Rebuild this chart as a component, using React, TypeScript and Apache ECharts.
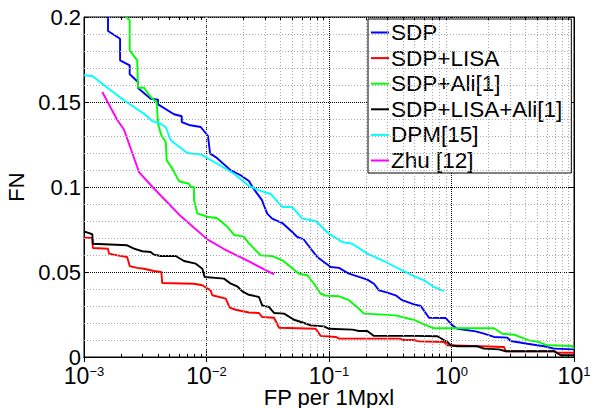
import React, { useEffect, useRef } from 'react';
import * as echarts from 'echarts';

const FONT = '"Liberation Sans", Arial, Helvetica, sans-serif';

const seriesNames = ['SDP', 'SDP+LISA', 'SDP+Ali[1]', 'SDP+LISA+Ali[1]', 'DPM[15]', 'Zhu [12]'];
const seriesColors = ['#0000ff', '#ff0000', '#00ff00', '#000000', '#00ffff', '#ff00ff'];

// [FP per 1Mpxl, FN]
const sdp: number[][] = [
  [0.00157, 0.2], [0.00157, 0.1918], [0.00197, 0.1872], [0.00197, 0.1745], [0.00236, 0.1716],
  [0.00236, 0.1663], [0.00276, 0.1618], [0.00276, 0.1582], [0.0035, 0.1519], [0.00402, 0.1514],
  [0.00402, 0.1486], [0.00543, 0.1428], [0.00628, 0.1416], [0.00628, 0.1382], [0.00719, 0.1365],
  [0.00897, 0.1353], [0.01028, 0.13], [0.0107, 0.1196], [0.01189, 0.1176], [0.0158, 0.1098],
  [0.019, 0.1069], [0.0222, 0.1035], [0.0241, 0.0992], [0.0283, 0.0924], [0.0313, 0.0843],
  [0.0344, 0.0814], [0.0416, 0.0788], [0.0501, 0.0735], [0.0551, 0.0706], [0.0625, 0.069],
  [0.071, 0.0637], [0.0802, 0.0588], [0.091, 0.0559], [0.1033, 0.0529], [0.1208, 0.0524],
  [0.1455, 0.049], [0.1757, 0.0471], [0.2055, 0.0455], [0.2328, 0.0431], [0.256, 0.0392],
  [0.2904, 0.0382], [0.35, 0.0363], [0.396, 0.0334], [0.494, 0.031], [0.561, 0.03],
  [0.655, 0.0231], [0.898, 0.0229], [1.016, 0.0186], [1.115, 0.0166], [1.577, 0.0151],
  [1.842, 0.0137], [2.224, 0.0118], [2.855, 0.0114], [3.04, 0.0094], [4.16, 0.0078],
  [5.69, 0.0063], [6.87, 0.0049], [10, 0.0045],
];

const sdpLisa: number[][] = [
  [0.001, 0.0702], [0.00117, 0.07], [0.00118, 0.0641], [0.00157, 0.0637], [0.0016, 0.0608],
  [0.00187, 0.0598], [0.00225, 0.0588], [0.00236, 0.0535], [0.00272, 0.0524], [0.00309, 0.0519],
  [0.00372, 0.0506], [0.00428, 0.05], [0.00435, 0.0435], [0.00791, 0.0431], [0.00925, 0.0422],
  [0.0108, 0.0392], [0.01115, 0.0363], [0.01436, 0.0343], [0.01545, 0.029], [0.0173, 0.0278],
  [0.0222, 0.0262], [0.0268, 0.0259], [0.0285, 0.0235], [0.0356, 0.0231], [0.0391, 0.0172],
  [0.0778, 0.0166], [0.0855, 0.0124], [0.1135, 0.0118], [0.1208, 0.0108], [0.385, 0.0108],
  [0.396, 0.01], [0.494, 0.01], [0.543, 0.0092], [0.869, 0.0088], [0.925, 0.0069],
  [1.73, 0.0063], [2.68, 0.0059], [2.77, 0.0034], [6.87, 0.0034], [7.31, 0.0025], [10, 0.0025],
];

const sdpAli: number[][] = [
  [0.00221, 0.2], [0.00236, 0.198], [0.00236, 0.1804], [0.00272, 0.1745], [0.00276, 0.1584],
  [0.00309, 0.1584], [0.0035, 0.1529], [0.00392, 0.15], [0.00402, 0.1372], [0.00428, 0.1304],
  [0.00465, 0.1265], [0.00473, 0.1157], [0.00526, 0.1108], [0.00597, 0.1034], [0.00719, 0.1019],
  [0.00743, 0.1], [0.00791, 0.1], [0.00791, 0.0924], [0.00841, 0.0845], [0.01016, 0.0825],
  [0.01225, 0.0816], [0.0148, 0.0766], [0.0168, 0.0718], [0.0202, 0.0708], [0.0222, 0.0668],
  [0.0277, 0.0598], [0.0344, 0.0594], [0.0416, 0.0569], [0.0486, 0.0529], [0.0569, 0.049],
  [0.0665, 0.0481], [0.0755, 0.0431], [0.0855, 0.0372], [0.094, 0.0361], [0.1208, 0.0357],
  [0.1455, 0.0334], [0.1757, 0.0284], [0.193, 0.0255], [0.256, 0.0251], [0.35, 0.0245],
  [0.45, 0.0225], [0.494, 0.0218], [0.597, 0.0192], [0.72, 0.0169], [2.224, 0.0169],
  [2.6, 0.0137], [3.24, 0.0131], [4.29, 0.0098], [5.18, 0.0088], [6.05, 0.0069],
  [9.68, 0.0065], [10, 0.0049],
];

const sdpLisaAli: number[][] = [
  [0.001, 0.0739], [0.00117, 0.0722], [0.00118, 0.0666], [0.00225, 0.0657], [0.00256, 0.0637],
  [0.00299, 0.0622], [0.0035, 0.0618], [0.00372, 0.0602], [0.00423, 0.0594], [0.00561, 0.0594],
  [0.00655, 0.0565], [0.00817, 0.0549], [0.00925, 0.0519], [0.00966, 0.0471], [0.0139, 0.0461],
  [0.0158, 0.0431], [0.0178, 0.0416], [0.0196, 0.0386], [0.0222, 0.0366], [0.0268, 0.0353],
  [0.0285, 0.0304], [0.0324, 0.0294], [0.0356, 0.0259], [0.043, 0.0255], [0.0518, 0.0219],
  [0.0625, 0.02], [0.071, 0.0186], [0.091, 0.018], [0.1, 0.0166], [0.1555, 0.0161],
  [0.1757, 0.0153], [0.2055, 0.0153], [0.2328, 0.0124], [0.494, 0.0124], [0.766, 0.0122],
  [0.925, 0.0088], [0.984, 0.0069], [1.115, 0.0063], [1.625, 0.0063], [1.842, 0.0049],
  [2.44, 0.0045], [2.77, 0.0034], [6.87, 0.0034], [7.79, 0.001], [10, 0.001],
];

const dpm: number[][] = [
  [0.001, 0.1657], [0.00117, 0.1653], [0.00146, 0.1598], [0.00212, 0.151], [0.00309, 0.1431],
  [0.00361, 0.1388], [0.00423, 0.1372], [0.00465, 0.1353], [0.0051, 0.1275], [0.00697, 0.12],
  [0.00897, 0.1192], [0.01225, 0.1137], [0.0168, 0.1078], [0.0222, 0.1006], [0.0265, 0.0982],
  [0.0334, 0.0959], [0.0416, 0.0882], [0.0501, 0.0882], [0.0605, 0.0814], [0.0778, 0.08],
  [0.1, 0.0725], [0.1285, 0.0676], [0.155, 0.0666], [0.2055, 0.0608], [0.272, 0.0569],
  [0.372, 0.0519], [0.494, 0.0476], [0.597, 0.0451], [0.72, 0.0412], [0.869, 0.0388],
];

const zhu: number[][] = [
  [0.00141, 0.1559], [0.00187, 0.1394], [0.00212, 0.1338], [0.00281, 0.1088], [0.00366, 0.0997],
  [0.00615, 0.0829], [0.01016, 0.0692], [0.0139, 0.0635], [0.0222, 0.0562], [0.0356, 0.0486],
];

const xTickExponents = [-3, -2, -1, 0, 1];
const yTickLabels = ['0', '0.05', '0.1', '0.15', '0.2'];
const minorMultipliers = [2, 3, 4, 5, 6, 7, 8, 9];
const minorDecades = [0.001, 0.01, 0.1, 1];
const yMinorGrid = [0.01, 0.02, 0.03, 0.04, 0.06, 0.07, 0.08, 0.09, 0.11, 0.12, 0.13, 0.14, 0.16, 0.17, 0.18, 0.19];

export default function App() {
  const ref = useRef<HTMLDivElement>(null);
  useEffect(() => {
    const chart = echarts.init(ref.current!, null, { renderer: 'svg' });
    const curves = [sdp, sdpLisa, sdpAli, sdpLisaAli, dpm, zhu];
    const xMinor: number[] = [];
    minorDecades.forEach((d) => minorMultipliers.forEach((m) => xMinor.push(+(d * m).toPrecision(3))));

    const lineSeries = curves.map((d, i) => ({
      name: seriesNames[i],
      type: 'line',
      data: d,
      symbol: 'none',
      showSymbol: false,
      silent: true,
      z: 3,
      lineStyle: { color: seriesColors[i], width: 1.9 },
      itemStyle: { color: seriesColors[i] },
    }));

    const gridSeries = {
      name: '__grid',
      type: 'line',
      data: [],
      silent: true,
      z: 1,
      markLine: {
        silent: true,
        symbol: ['none', 'none'],
        label: { show: false },
        animation: false,
        lineStyle: { color: '#a8a8a8', type: [1, 2], width: 1 },
        data: [
          ...xMinor.map((v) => ({ xAxis: v })),
          ...yMinorGrid.map((v) => ({ yAxis: v })),
        ],
      },
    };

    const tickSeries = {
      name: '__ticks',
      type: 'line',
      data: [],
      silent: true,
      z: 4,
      markLine: {
        silent: true,
        symbol: ['none', 'none'],
        label: { show: false },
        animation: false,
        lineStyle: { color: '#000', type: 'solid', width: 1 },
        data: xMinor.flatMap((v) => [
          [{ coord: [v, 0] }, { coord: [v, 0.0018] }],
          [{ coord: [v, 0.2] }, { coord: [v, 0.1982] }],
        ]),
      },
    };

    const axisLabelStyle = { fontFamily: FONT, color: '#000', fontSize: 22 };

    chart.setOption({
      animation: false,
      backgroundColor: '#fff',
      textStyle: { fontFamily: FONT },
      grid: {
        left: 84, top: 17, width: 490, height: 340,
        show: true, borderColor: '#000', borderWidth: 1, backgroundColor: 'transparent',
        containLabel: false, outerBoundsMode: 'none',
      },
      legend: {
        data: seriesNames,
        orient: 'vertical',
        left: 368,
        top: 19,
        padding: [2, 9, 1, 3],
        itemGap: 2.6,
        itemWidth: 18,
        itemHeight: 2,
        icon: 'rect',
        backgroundColor: '#fff',
        borderColor: '#000',
        borderWidth: 1,
        borderRadius: 0,
        selectedMode: false,
        textStyle: { fontFamily: FONT, fontSize: 22.5, color: '#000', padding: [0, 0, 0, -3] },
      },
      xAxis: [
        {
          type: 'log',
          logBase: 10,
          min: 0.001,
          max: 10,
          name: 'FP per 1Mpxl',
          nameLocation: 'middle',
          nameGap: 31,
          nameMoveOverlap: false,
          nameTextStyle: { fontFamily: FONT, fontSize: 22, color: '#000', lineHeight: 18 },
          axisLine: { show: true, lineStyle: { color: '#000', width: 1 } },
          axisTick: { show: true, inside: true, length: 5, lineStyle: { color: '#000' } },
          splitLine: { show: true, lineStyle: { color: '#000', type: [1, 1], width: 1 } },
          axisLabel: {
            margin: 8,
            formatter: (v: number) => {
              const e = Math.round(Math.log10(v));
              const idx = xTickExponents.indexOf(e);
              const s = idx >= 0 ? String(xTickExponents[idx]).replace('-', '\u2212') : '';
              return '{b|10}{s|' + s + '}';
            },
            rich: {
              b: { ...axisLabelStyle, fontSize: 23, lineHeight: 19, padding: [3, 0, 0, 0] },
              s: { ...axisLabelStyle, fontSize: 13, lineHeight: 12, verticalAlign: 'top' },
            },
          },
        },
        {
          type: 'log',
          logBase: 10,
          min: 0.001,
          max: 10,
          position: 'top',
          axisLine: { show: true, lineStyle: { color: '#000' } },
          axisTick: { show: true, inside: true, length: 5, lineStyle: { color: '#000' } },
          axisLabel: { show: false },
          splitLine: { show: false },
        },
      ],
      yAxis: [
        {
          type: 'value',
          min: 0,
          max: 0.2,
          interval: 0.05,
          name: 'FN',
          nameLocation: 'middle',
          nameGap: 54,
          nameTextStyle: { fontFamily: FONT, fontSize: 22, color: '#000' },
          axisLine: { show: true, lineStyle: { color: '#000' } },
          axisTick: { show: true, inside: true, length: 5, lineStyle: { color: '#000' } },
          splitLine: { show: true, lineStyle: { color: '#000', type: [1, 1], width: 1 } },
          axisLabel: {
            ...axisLabelStyle,
            lineHeight: 17,
            margin: 3,
            formatter: (_v: number, i: number) => yTickLabels[i] ?? '',
          },
        },
        {
          type: 'value',
          min: 0,
          max: 0.2,
          interval: 0.05,
          position: 'right',
          axisLine: { show: true, lineStyle: { color: '#000' } },
          axisTick: { show: true, inside: true, length: 5, lineStyle: { color: '#000' } },
          axisLabel: { show: false },
          splitLine: { show: false },
        },
      ],
      series: [gridSeries, tickSeries, ...lineSeries],
    });
    return () => chart.dispose();
  }, []);
  return <div ref={ref} style={{ width: 596, height: 408, position: 'absolute', left: 0, top: 0 }} />;
}
